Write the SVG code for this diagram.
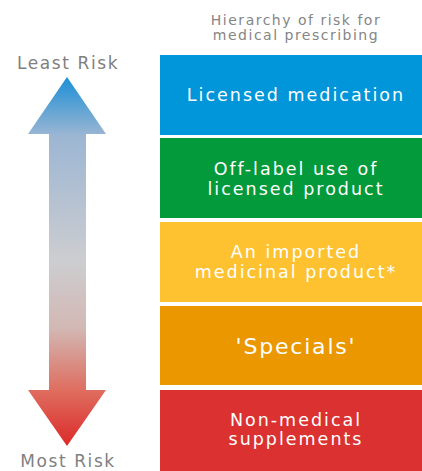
<svg xmlns="http://www.w3.org/2000/svg" width="422" height="471" viewBox="0 0 422 471">
<defs>
<linearGradient id="arrowGrad" gradientUnits="userSpaceOnUse" x1="0" y1="77" x2="0" y2="446">
<stop offset="0" stop-color="#1b8fd6"/>
<stop offset="0.16" stop-color="#9cb6d3"/>
<stop offset="0.5" stop-color="#cdcdd0"/>
<stop offset="0.68" stop-color="#d2b8b4"/>
<stop offset="0.85" stop-color="#df6d5f"/>
<stop offset="1" stop-color="#dc2a2a"/>
</linearGradient>
</defs>
<style>
.box-label{font-family:"DejaVu Sans","Liberation Sans",sans-serif;font-size:17.5px;letter-spacing:2px;fill:#ffffff;text-anchor:middle}
.side{font-family:"DejaVu Sans","Liberation Sans",sans-serif;font-size:17px;letter-spacing:1.6px;fill:#7f7f7f;text-anchor:middle}
.title{font-family:"DejaVu Sans","Liberation Sans",sans-serif;font-size:14px;letter-spacing:1.5px;fill:#858585;text-anchor:middle}
</style>
<rect width="422" height="471" fill="#ffffff"/>
<g id="title">
<text class="title" x="296" y="25">Hierarchy of risk for</text>
<text class="title" x="296" y="40">medical prescribing</text>
</g>
<g id="risk-arrow">
<path d="M67,77 L106,134 L86,134 L86,390 L106,390 L67,446 L28,390 L49,390 L49,134 L28,134 Z" fill="url(#arrowGrad)"/>
<text class="side" x="68" y="69">Least Risk</text>
<text class="side" x="68" y="467">Most Risk</text>
</g>
<g id="licensed">
<rect x="160" y="55" width="262" height="80" fill="#0096d9"/>
<text class="box-label" x="296" y="101">Licensed medication</text>
</g>
<g id="offlabel">
<rect x="160" y="138" width="262" height="80" fill="#029a3a"/>
<text class="box-label" x="296" y="175">Off-label use of</text>
<text class="box-label" x="296" y="195">licensed product</text>
</g>
<g id="imported">
<rect x="160" y="222" width="262" height="80" fill="#fec230"/>
<text class="box-label" x="296" y="258">An imported</text>
<text class="box-label" x="296" y="278">medicinal product*</text>
</g>
<g id="specials">
<rect x="160" y="306" width="262" height="79" fill="#ea9700"/>
<text class="box-label" x="296" y="354" style="font-size:22px;letter-spacing:1.8px">'Specials'</text>
</g>
<g id="supplements">
<rect x="160" y="390" width="262" height="81" fill="#dc3131"/>
<text class="box-label" x="296" y="426">Non-medical</text>
<text class="box-label" x="296" y="445">supplements</text>
</g>
<g id="connectors"></g>
</svg>
